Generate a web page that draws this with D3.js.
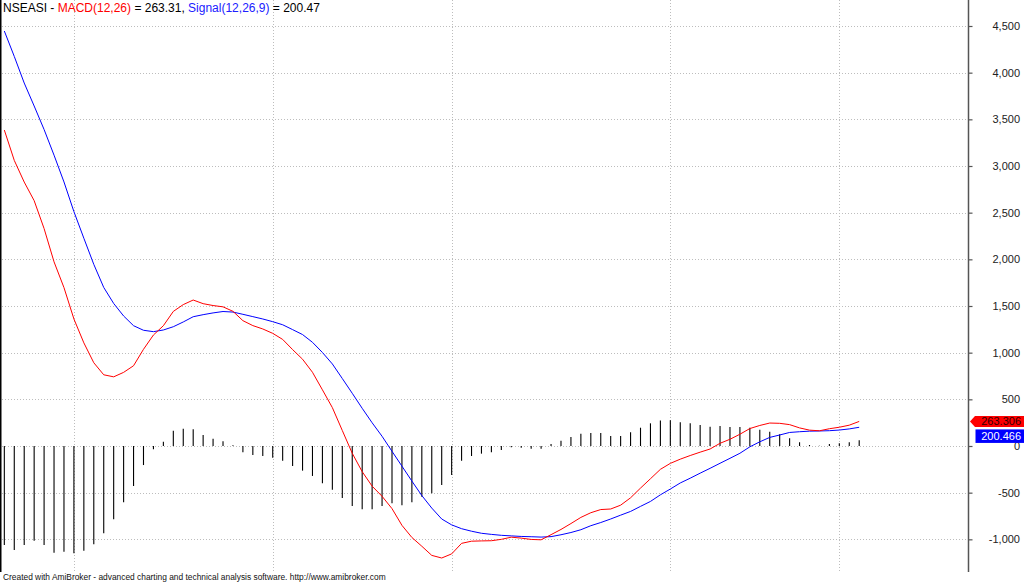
<!DOCTYPE html>
<html>
<head>
<meta charset="utf-8">
<script src="https://cdn.jsdelivr.net/npm/d3@7"></script>
<style>
  html, body { margin: 0; padding: 0; background: #fff; }
  svg { display: block; }
</style>
</head>
<body>
<script>
// ---------- data ----------
const symbol = "NSEASI";
const macdLabel = "MACD(12,26)";
const signalLabel = "Signal(12,26,9)";

const macd = [3385, 3060, 2828, 2629, 2330, 1973, 1697, 1361, 1105, 892,
  763, 741, 789, 860, 1036, 1189, 1289, 1442, 1515, 1564,
  1525, 1505, 1491, 1443, 1343, 1290, 1254, 1207, 1142, 1033,
  930, 790, 602, 411, 166, -78, -275, -430, -539, -671,
  -850, -980, -1074, -1172, -1200, -1156, -1043, -1020, -1017, -1015,
  -1000, -977, -987, -1001, -1005, -950, -894, -831, -765, -715,
  -681, -675, -634, -555, -451, -351, -250, -186, -141, -102,
  -66, -32, 29, 72, 126, 187, 220, 246, 243, 229,
  194, 170, 163, 185, 201, 223, 263.306];

const signal = [4446, 4174, 3889, 3643, 3391, 3116, 2829, 2511, 2226, 1946,
  1699, 1527, 1393, 1289, 1240, 1225, 1243, 1278, 1329, 1385,
  1407, 1426, 1441, 1435, 1411, 1386, 1361, 1332, 1299, 1247,
  1194, 1111, 1002, 879, 723, 565, 404, 249, 104, -57,
  -216, -376, -531, -665, -782, -845, -886, -913, -935, -947,
  -957, -963, -969, -972, -976, -971, -951, -927, -897, -854,
  -820, -782, -741, -701, -647, -594, -523, -461, -396, -345,
  -291, -239, -185, -132, -78, -9, 45, 92, 118, 145,
  153, 159, 161, 164, 171, 183, 200.466];

const hist = [-1061, -1114, -1061, -1014, -1061, -1143, -1132, -1150, -1121, -1054,
  -936, -786, -604, -429, -204, -36, 46, 164, 186, 179,
  118, 79, 50, 8, -68, -96, -107, -125, -157, -214,
  -264, -321, -400, -468, -557, -643, -679, -679, -643, -614,
  -634, -604, -543, -507, -418, -311, -157, -107, -82, -68,
  -43, -14, -18, -29, -29, 21, 57, 96, 132, 139,
  139, 107, 107, 146, 196, 243, 273, 275, 255, 243,
  225, 207, 214, 204, 204, 196, 175, 154, 125, 84,
  41, 11, 2, 21, 30, 40, 62.84];

const gridBarIdx = [7, 27, 45, 67, 84];   // bars where the vertical date gridlines fall
const tickValues = [-1000, -500, 0, 500, 1000, 1500, 2000, 2500, 3000, 3500, 4000, 4500];
const tickLabels = ["-1,000", "-500", "0", "500", "1,000", "1,500", "2,000", "2,500", "3,000", "3,500", "4,000", "4,500"];
const footer = "Created with AmiBroker - advanced charting and technical analysis software. http://www.amibroker.com";

// ---------- layout ----------
const W = 1024, H = 583;
const plotBottom = 572, axisX = 968.5;

const x = d3.scaleLinear().domain([0, macd.length - 1]).range([4.33, 859.2]);
const y = d3.scaleLinear().domain([-1350, 4778.57]).range([plotBottom, 0]);

const svg = d3.select("body").append("svg")
  .attr("width", W).attr("height", H)
  .style("font-family", "'Liberation Sans', Arial, sans-serif");

svg.append("rect").attr("width", W).attr("height", H).attr("fill", "#fff");

// horizontal gridlines
svg.append("g").selectAll("line").data(tickValues).join("line")
  .attr("x1", 2).attr("x2", axisX)
  .attr("y1", d => Math.round(y(d)) + 0.5).attr("y2", d => Math.round(y(d)) + 0.5)
  .attr("stroke", "#bdbdbd").attr("stroke-width", 1).attr("stroke-dasharray", "1,2");

// vertical gridlines
svg.append("g").selectAll("line").data(gridBarIdx).join("line")
  .attr("x1", d => Math.round(x(d)) + 0.5).attr("x2", d => Math.round(x(d)) + 0.5)
  .attr("y1", 0).attr("y2", plotBottom)
  .attr("stroke", "#bdbdbd").attr("stroke-width", 1).attr("stroke-dasharray", "1,2");

// histogram
svg.append("g").selectAll("line").data(hist).join("line")
  .attr("x1", (d, i) => x(i)).attr("x2", (d, i) => x(i))
  .attr("y1", y(0)).attr("y2", d => y(d))
  .attr("stroke", "#000").attr("stroke-width", 1.1);

// lines
const line = d3.line().x((d, i) => x(i)).y(d => y(d));
svg.append("path").datum(signal).attr("d", line)
  .attr("fill", "none").attr("stroke", "#0000ff").attr("stroke-width", 1);
svg.append("path").datum(macd).attr("d", line)
  .attr("fill", "none").attr("stroke", "#ff0000").attr("stroke-width", 1);

// left border
svg.append("line").attr("x1", 0.75).attr("x2", 0.75).attr("y1", 0).attr("y2", plotBottom)
  .attr("stroke", "#000").attr("stroke-width", 1.5);

// right axis
const axisG = svg.append("g").attr("transform", `translate(${axisX},0)`);
const axis = d3.axisRight(y).tickValues(tickValues)
  .tickFormat((d, i) => tickLabels[i]).tickSize(4).tickPadding(0);
axisG.call(axis);
axisG.select(".domain").remove();
axisG.selectAll(".tick line").attr("stroke", "#555").attr("stroke-width", 1.2);
axisG.selectAll(".tick text")
  .attr("x", 1020 - axisX).attr("text-anchor", "end")
  .attr("font-size", 11).attr("fill", "#222")
  .attr("font-family", "'Liberation Sans', Arial, sans-serif");
svg.append("line").attr("x1", axisX).attr("x2", axisX).attr("y1", 0).attr("y2", plotBottom)
  .attr("stroke", "#555").attr("stroke-width", 1.5);

// value flags on axis
const lastM = macd[macd.length - 1], lastS = signal[signal.length - 1];
const my = y(lastM);
const redTop = my - 5.5, redBot = my + 5.5;
svg.append("path")
  .attr("d", `M970,${my} L975,${redTop} L1024,${redTop} L1024,${redBot} L975,${redBot} Z`)
  .attr("fill", "#ff0000");
svg.append("text").attr("x", 1021).attr("y", my + 4).attr("text-anchor", "end")
  .attr("font-size", 11).attr("fill", "#300").text(lastM.toFixed(3));
const blueTop = redBot + 2.5, blueBot = blueTop + 13.5;
svg.append("rect").attr("x", 975.5).attr("y", blueTop).attr("width", 48.5).attr("height", blueBot - blueTop)
  .attr("fill", "#0000ff");
svg.append("text").attr("x", 1021).attr("y", blueTop + 10.5).attr("text-anchor", "end")
  .attr("font-size", 11).attr("fill", "#fff").text(lastS.toFixed(3));

// title
const title = svg.append("text").attr("x", 3).attr("y", 12).attr("font-size", 12).attr("fill", "#000");
title.append("tspan").text(`${symbol} - `);
title.append("tspan").attr("fill", "#ff0000").text(macdLabel);
title.append("tspan").text(` = ${lastM.toFixed(2)}, `);
title.append("tspan").attr("fill", "#2020ff").text(signalLabel);
title.append("tspan").text(` = ${lastS.toFixed(2)}`);

// footer
svg.append("text").attr("x", 3).attr("y", 580).attr("font-size", 8.4).attr("fill", "#111")
  .text(footer);
</script>
</body>
</html>
